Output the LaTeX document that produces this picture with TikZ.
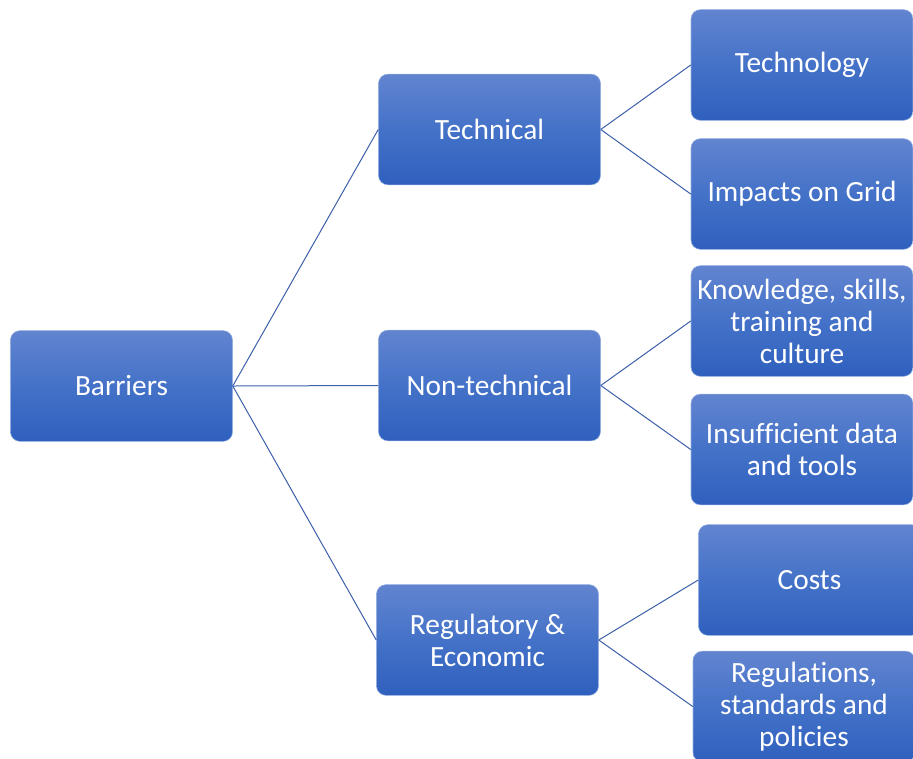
\documentclass[tikz,border=0pt]{standalone}
\usepackage{fontspec}
\setmainfont[Ligatures=NoCommon]{Carlito}
\definecolor{boxtop}{RGB}{98,132,208}
\definecolor{boxmid}{RGB}{68,114,200}
\definecolor{boxbot}{RGB}{47,96,190}
\definecolor{boxedge}{RGB}{150,175,225}
\definecolor{linkcol}{RGB}{60,95,170}
\begin{document}
\begin{tikzpicture}[x=0.75pt,y=-0.75pt,
  box/.style={rectangle, rounded corners=7pt, draw=boxedge, line width=0.4pt,
    top color=boxtop, bottom color=boxbot, middle color=boxmid,
    minimum width=166.5pt, minimum height=83pt, inner sep=2pt,
    align=center, text=white, font=\fontsize{22}{24}\selectfont},
  link/.style={draw=linkcol, line width=0.75pt}]
\useasboundingbox (0,0) rectangle (913,758);
\node[box] (bar) at (121.5,386) {Barriers};
\node[box] (tec) at (489.5,129.5) {Technical};
\node[box] (non) at (489.5,385.5) {Non-technical};
\node[box] (reg) at (487.5,640) {Regulatory \&\\Economic};
\node[box] (tno) at (802,65) {Technology};
\node[box] (imp) at (802,194) {Impacts on Grid};
\node[box] (kno) at (802,321) {Knowledge, skills,\\training and\\culture};
\node[box] (ins) at (802,449.5) {Insufficient data\\and tools};
\node[box] (cos) at (809.5,580) {Costs};
\node[box] (rgs) at (804,706.5) {Regulations,\\standards and\\policies};
\draw[link] (bar.east) -- (tec.west);
\draw[link] (bar.east) -- (non.west);
\draw[link] (bar.east) -- (reg.west);
\draw[link] (tec.east) -- (tno.west);
\draw[link] (tec.east) -- (imp.west);
\draw[link] (non.east) -- (kno.west);
\draw[link] (non.east) -- (ins.west);
\draw[link] (reg.east) -- (cos.west);
\draw[link] (reg.east) -- (rgs.west);
\end{tikzpicture}
\end{document}
